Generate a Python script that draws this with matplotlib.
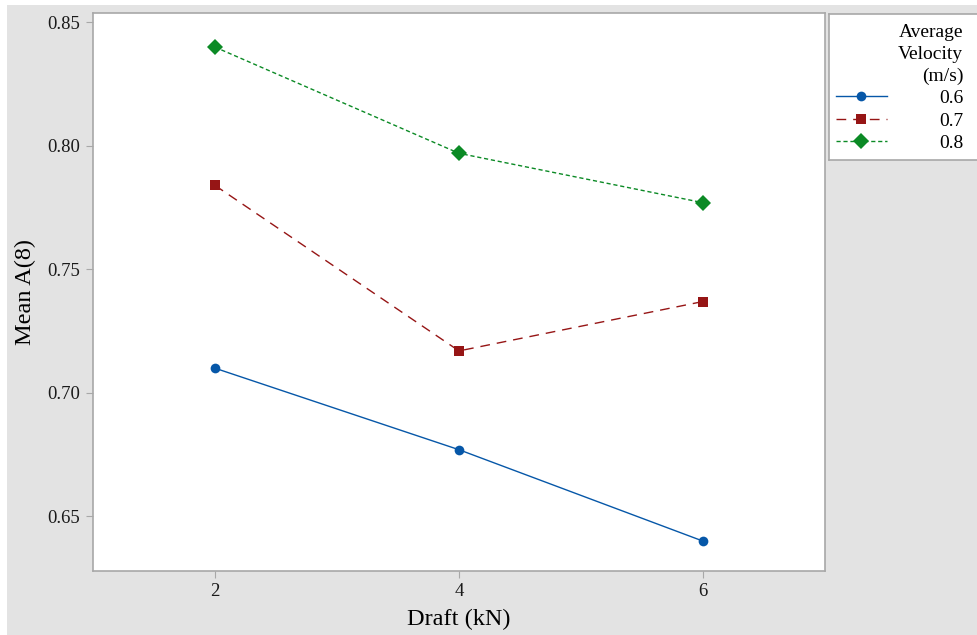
import numpy as np
import matplotlib
matplotlib.use('Agg')
import matplotlib.pyplot as plt
from matplotlib.patches import Rectangle
from matplotlib.lines import Line2D

# DATA ================================================================
draft = [2, 4, 6]
velocities = ['0.6', '0.7', '0.8']
mean_06 = [0.710, 0.677, 0.640]
mean_07 = [0.784, 0.717, 0.737]
mean_08 = [0.840, 0.797, 0.777]

# STYLE ===============================================================
plt.rcParams['font.family'] = ['Liberation Serif', 'DejaVu Serif']
W, H = 978, 635
bg = '#e3e3e3'
spine_col = '#a8a8a8'
colors = ['#0657a8', '#961515', '#0b8a25']
markers = ['o', 's', 'D']
styles = ['-', (0, (7, 5)), (0, (3, 2))]
msizes = [7, 7, 8.5]

def box(x0, y0, x1, y1):
    # pixel box -> figure fraction [left, bottom, width, height]
    return [x0 / W, 1 - y1 / H, (x1 - x0) / W, (y1 - y0) / H]

fig = plt.figure(figsize=(W / 100, H / 100), dpi=100)
fig.patch.set_facecolor('white')
fig.patches.append(Rectangle((7 / W, 0), 1, 1 - 5 / H, transform=fig.transFigure,
                             facecolor=bg, edgecolor='none', zorder=-10))

# MAIN AXES ===========================================================
ax = fig.add_axes(box(93, 13, 825, 571))
ax.set_facecolor('white')
series = [mean_06, mean_07, mean_08]
for vals, c, m, ls, ms in zip(series, colors, markers, styles, msizes):
    ax.plot(draft, vals, color=c, marker=m, linestyle=ls, linewidth=1.0,
            markersize=ms, markeredgewidth=0)

ax.set_xlim(1, 7)
ax.set_ylim(0.6279, 0.8538)
ax.set_xticks(draft)
ax.set_yticks([0.65, 0.70, 0.75, 0.80, 0.85])
ax.set_yticklabels(['0.65', '0.70', '0.75', '0.80', '0.85'])
ax.tick_params(direction='out', length=5, color=spine_col, labelsize=13.5,
               labelcolor='#1a1a1a', pad=4)
for s in ax.spines.values():
    s.set_color(spine_col)
    s.set_linewidth(1.2)
ax.set_xlabel('Draft (kN)', fontsize=17.5, labelpad=6)
ax.set_ylabel('Mean A(8)', fontsize=17.5, labelpad=8)

# LEGEND ==============================================================
lax = fig.add_axes(box(829, 14, 980, 160))
lax.set_facecolor('white')
lax.set_xticks([])
lax.set_yticks([])
for s in lax.spines.values():
    s.set_color(spine_col)
    s.set_linewidth(1.2)

handles = [Line2D([], [], color=c, marker=m, linestyle=ls, linewidth=1.0,
                  markersize=ms, markeredgewidth=0)
           for c, m, ls, ms in zip(colors, markers, styles, msizes)]
leg = lax.legend(handles, velocities, loc='upper right', frameon=False,
                 title='Average\nVelocity\n(m/s)', alignment='right',
                 fontsize=14, title_fontsize=14, handlelength=2.6,
                 handletextpad=2.7, labelspacing=0.25, borderpad=0,
                 borderaxespad=0, bbox_to_anchor=(0.89, 0.93))
leg.get_title().set_multialignment('right')
leg.get_title().set_linespacing(1.35)

fig.savefig('out.png', dpi=100, facecolor=fig.get_facecolor())
